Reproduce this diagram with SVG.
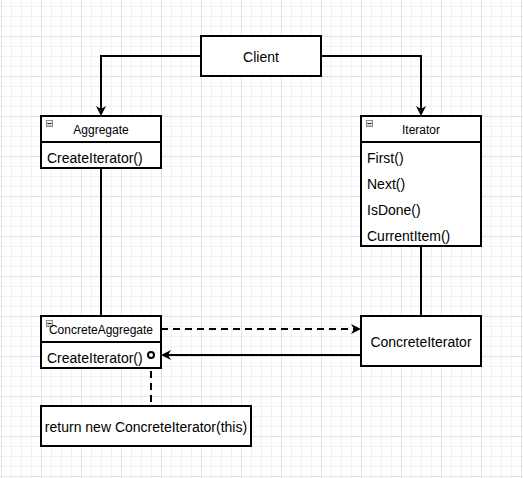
<svg xmlns="http://www.w3.org/2000/svg" width="523" height="478" viewBox="0 0 523 478">
<defs>
<pattern id="minor" width="10" height="10" patternUnits="userSpaceOnUse" x="1" y="6">
<path d="M0.5,0 V10 M0,0.5 H10" stroke="#f2f2f2" stroke-width="1" fill="none"/>
</pattern>
<pattern id="major" width="40" height="40" patternUnits="userSpaceOnUse" x="1" y="36">
<path d="M0.5,0 V40 M0,0.5 H40" stroke="#e2e2e2" stroke-width="1" fill="none"/>
</pattern>
<marker id="arr" viewBox="0 0 10 10" markerWidth="10" markerHeight="10" markerUnits="userSpaceOnUse" refX="3" refY="5" orient="auto">
<path d="M0,0 L10,5 L0,10 L3,5 z" fill="#000"/>
</marker>
<linearGradient id="icg" x1="0" y1="0" x2="0" y2="1">
<stop offset="0" stop-color="#f4f4f4"/>
<stop offset="1" stop-color="#c8c8c8"/>
</linearGradient>
</defs>
<style>
.box{fill:#fff;stroke:#000;stroke-width:2}
.ln{fill:none;stroke:#000;stroke-width:2}
.dash{stroke-dasharray:7 5}
.t{font-family:"Liberation Sans",Arial,sans-serif;fill:#000}
.t14{font-size:14px}
.t12{font-size:12px}
.mid{text-anchor:middle}
.icon{fill:url(#icg);stroke:#8a8a8a;stroke-width:1}
</style>
<rect width="523" height="478" fill="#fff"/>
<rect width="523" height="478" fill="url(#minor)"/>
<rect width="523" height="478" fill="url(#major)"/>

<g id="connectors">
<path class="ln" d="M201,56 H101 V109" marker-end="url(#arr)"/>
<path class="ln" d="M321,56 H421 V109" marker-end="url(#arr)"/>
<path class="ln" d="M101,168 V316"/>
<path class="ln" d="M421,246 V316"/>
<path class="ln dash" d="M161,329 H354" marker-end="url(#arr)"/>
<path class="ln" d="M361,355 H168" marker-end="url(#arr)"/>
<path class="ln dash" d="M151,359 V406"/>
</g>

<g id="client">
<rect class="box" x="201" y="36" width="120" height="40"/>
<text class="t t14 mid" x="261" y="62">Client</text>
</g>

<g id="aggregate">
<rect class="box" x="41" y="116" width="120" height="52"/>
<path class="ln" d="M41,142 H161"/>
<rect class="icon" x="46.5" y="120.5" width="6" height="6"/>
<path d="M47.5,123.5 H51.5" stroke="#333" stroke-width="1"/>
<text class="t t12 mid" x="101" y="134">Aggregate</text>
<text class="t t14" x="47" y="163">CreateIterator()</text>
</g>

<g id="iterator">
<rect class="box" x="361" y="116" width="120" height="130"/>
<path class="ln" d="M361,142 H481"/>
<rect class="icon" x="366.5" y="120.5" width="6" height="6"/>
<path d="M367.5,123.5 H371.5" stroke="#333" stroke-width="1"/>
<text class="t t12 mid" x="421" y="134">Iterator</text>
<text class="t t14" x="367" y="163">First()</text>
<text class="t t14" x="367" y="189">Next()</text>
<text class="t t14" x="367" y="215">IsDone()</text>
<text class="t t14" x="367" y="241">CurrentItem()</text>
</g>

<g id="concreteAggregate">
<rect class="box" x="41" y="316" width="120" height="52"/>
<path class="ln" d="M41,342 H161"/>
<rect class="icon" x="46.5" y="320.5" width="6" height="6"/>
<path d="M47.5,323.5 H51.5" stroke="#333" stroke-width="1"/>
<text class="t t12 mid" x="101" y="334">ConcreteAggregate</text>
<text class="t t14" x="47" y="363">CreateIterator()</text>
<circle cx="151" cy="355" r="3" fill="#fff" stroke="#000" stroke-width="2"/>
</g>

<g id="concreteIterator">
<rect class="box" x="361" y="316" width="120" height="50"/>
<text class="t t14 mid" x="421" y="347">ConcreteIterator</text>
</g>

<g id="note">
<rect class="box" x="41" y="406" width="210" height="40"/>
<text class="t t14 mid" x="146" y="432">return new ConcreteIterator(this)</text>
</g>
</svg>
